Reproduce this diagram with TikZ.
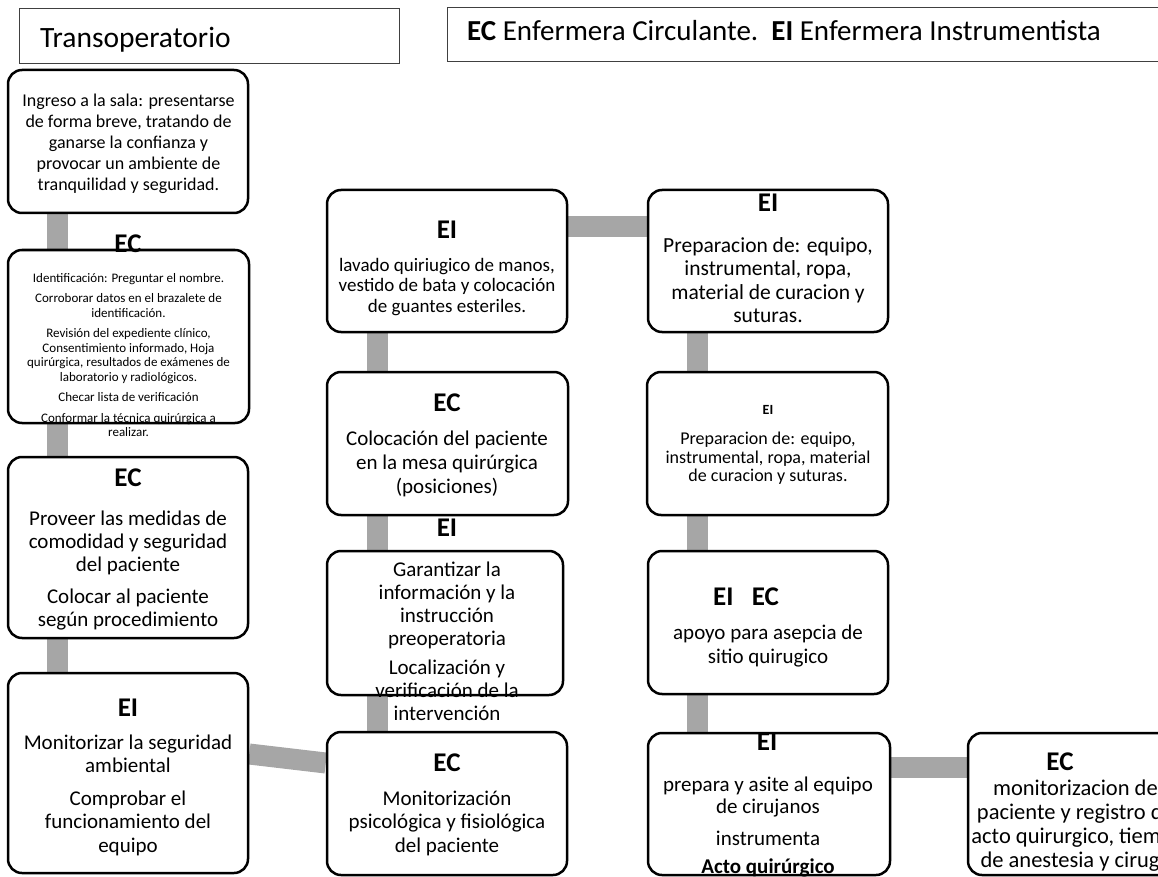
\documentclass[tikz,border=0pt]{standalone}
\usepackage{fontspec}
\setmainfont{Carlito}
\usetikzlibrary{positioning,backgrounds}
\definecolor{LinkGray}{HTML}{A6A6A6}
\definecolor{FrameGray}{HTML}{404040}

\begin{document}
\begin{tikzpicture}[
  x=1pt, y=-1pt,
  card/.style={draw=black, line width=2.5pt, rounded corners=14pt, fill=white, inner sep=0pt},
  frame/.style={draw=FrameGray, line width=1pt, fill=white, inner sep=0pt},
  hdr/.style={inner sep=0pt, font=\fontsize{27}{29}\selectfont\bfseries},
  txt/.style={align=center, inner sep=0pt, font=\fontsize{21}{23}\selectfont},
  link/.style={draw=LinkGray, line width=21pt}
]
\useasboundingbox (0,0) rectangle (1158,877);
\clip (0,0) rectangle (1158,877);

% titulos
\node[frame, minimum width=380pt, minimum height=55pt] (titulo) at (209,36.5) {};
\node[frame, minimum width=728pt, minimum height=54pt] (leyenda) at (811,35) {};
\node[anchor=base west, inner sep=0pt, font=\fontsize{29.5}{31}\selectfont] (tituloTxt) at (40,48) {Transoperatorio};
\node[anchor=base west, inner sep=0pt, font=\fontsize{29}{31}\selectfont] (leyendaTxt) at (467,41)
  {\textbf{EC} Enfermera Circulante.\ \ \textbf{EI} Enfermera Instrumentista};

% cajas
\node[card, minimum width=240pt, minimum height=143pt] (ingreso) at (128,141.5) {};
\node[card, minimum width=241pt, minimum height=173pt] (ident) at (128.5,336.5) {};
\node[card, minimum width=240pt, minimum height=181pt] (proveer) at (128,547.5) {};
\node[card, minimum width=240pt, minimum height=200pt] (monitor) at (128,773) {};
\node[card, minimum width=240pt, minimum height=142pt] (lavado) at (447,261) {};
\node[card, minimum width=241pt, minimum height=143pt] (coloca) at (447.5,443.5) {};
\node[card, minimum width=236pt, minimum height=144pt] (garant) at (445,623) {};
\node[card, minimum width=240pt, minimum height=143pt] (psico) at (447,803.5) {};
\node[card, minimum width=240pt, minimum height=142pt] (prepA) at (768,261) {};
\node[card, minimum width=241pt, minimum height=143pt] (prepB) at (767.5,443.5) {};
\node[card, minimum width=240pt, minimum height=143pt] (apoyo) at (768,622.5) {};
\node[card, minimum width=242pt, minimum height=142pt] (acto) at (769,804) {};
\node[card, minimum width=242pt, minimum height=142pt] (regist) at (1089,804) {};

% conectores
\begin{pgfonlayer}{background}
\draw[link] ([xshift=-71pt]ingreso.south) -- ([xshift=-71.5pt]ident.north);
\draw[link] ([xshift=-71.5pt]ident.south) -- ([xshift=-71pt]proveer.north);
\draw[link] ([xshift=-71pt]proveer.south) -- ([xshift=-71pt]monitor.north);
\draw[link] ([yshift=19pt]monitor.east) -- ([yshift=40.5pt]psico.west);
\draw[link] ([xshift=-70pt]lavado.south) -- ([xshift=-70.5pt]coloca.north);
\draw[link] ([xshift=-70.5pt]coloca.south) -- ([xshift=-68pt]garant.north);
\draw[link] ([xshift=-68pt]garant.south) -- ([xshift=-70pt]psico.north);
\draw[link] ([yshift=34pt]lavado.east) -- ([yshift=34pt]prepA.west);
\draw[link] ([xshift=-71pt]prepA.south) -- ([xshift=-70.5pt]prepB.north);
\draw[link] ([xshift=-70.5pt]prepB.south) -- ([xshift=-71pt]apoyo.north);
\draw[link] ([xshift=-71pt]apoyo.south) -- ([xshift=-72pt]acto.north);
\draw[link] ([yshift=37pt]acto.east) -- ([yshift=37pt]regist.west);
\end{pgfonlayer}

% textos
\node[txt, font=\fontsize{18}{21}\selectfont] (ingresoTxt) at (128.5,144)
  {Ingreso a la sala: presentarse\\de forma breve, tratando de\\ganarse la confianza y\\provocar un ambiente de\\tranquilidad y seguridad.};

\node[hdr] (identHdr) at (128,244) {EC};
\node[txt, font=\fontsize{13}{14.5}\selectfont] (identTxt) at (128.5,355)
  {Identificación: Preguntar el nombre.\\[6pt]Corroborar datos en el brazalete de\\identificación.\\[6pt]Revisión del expediente clínico,\\Consentimiento informado, Hoja\\quirúrgica, resultados de exámenes de\\laboratorio y radiológicos.\\[6pt]Checar lista de verificación\\[6pt]Conformar la técnica quirúrgica a\\realizar.};

\node[hdr] (proveerHdr) at (128,478) {EC};
\node[txt] (proveerTxt) at (128,570.5)
  {Proveer las medidas de\\comodidad y seguridad\\del paciente\\[9pt]Colocar al paciente\\según procedimiento};

\node[hdr] (monitorHdr) at (128,708) {EI};
\node[txt, font=\fontsize{21}{23.5}\selectfont] (monitorTxt) at (128,795)
  {Monitorizar la seguridad\\ambiental\\[9pt]Comprobar el\\funcionamiento del\\equipo};

\node[hdr] (lavadoHdr) at (447,230) {EI};
\node[txt, font=\fontsize{19}{20.5}\selectfont] (lavadoTxt) at (447,287)
  {lavado quiriugico de manos,\\vestido de bata y colocación\\de guantes esteriles.};

\node[hdr] (colocaHdr) at (447,403) {EC};
\node[txt, font=\fontsize{21}{24}\selectfont] (colocaTxt) at (447,464)
  {Colocación del paciente\\en la mesa quirúrgica\\(posiciones)};

\node[hdr] (garantHdr) at (447,528) {EI};
\node[txt] (garantTxt) at (447,641.5)
  {Garantizar la\\información y la\\instrucción\\preoperatoria\\[6pt]Localización y\\verificación de la\\intervención};

\node[hdr] (psicoHdr) at (447,763) {EC};
\node[txt, font=\fontsize{21}{23.5}\selectfont] (psicoTxt) at (447,823)
  {Monitorización\\psicológica y fisiológica\\del paciente};

\node[hdr] (prepAHdr) at (768,203) {EI};
\node[txt, font=\fontsize{21.5}{23.5}\selectfont] (prepATxt) at (768,280)
  {Preparacion de: equipo,\\instrumental, ropa,\\material de curacion y\\suturas.};

\node[hdr, font=\fontsize{14}{16}\selectfont\bfseries] (prepBHdr) at (768,410) {EI};
\node[txt, font=\fontsize{18}{18.5}\selectfont] (prepBTxt) at (768,458.5)
  {Preparacion de: equipo,\\instrumental, ropa, material\\de curacion y suturas.};

\node[hdr] (apoyoHdr) at (746,597) {EI~~~EC};
\node[txt, font=\fontsize{21}{24}\selectfont] (apoyoTxt) at (768,646)
  {apoyo para asepcia de\\sitio quirugico};

\node[hdr] (actoHdr) at (767,742) {EI};
\node[txt, font=\fontsize{21}{22.5}\selectfont] (actoTxt) at (768,827)
  {prepara y asite al equipo\\de cirujanos\\[9.5pt]instrumenta\\[5.5pt]\textbf{Acto quirúrgico}};

\node[hdr] (registHdr) at (1060,762) {EC};
\node[txt, font=\fontsize{22.5}{24}\selectfont] (registTxt) at (1078,826)
  {monitorizacion del\\paciente y registro del\\acto quirurgico, tiempo\\de anestesia y cirugia};
\end{tikzpicture}
\end{document}
